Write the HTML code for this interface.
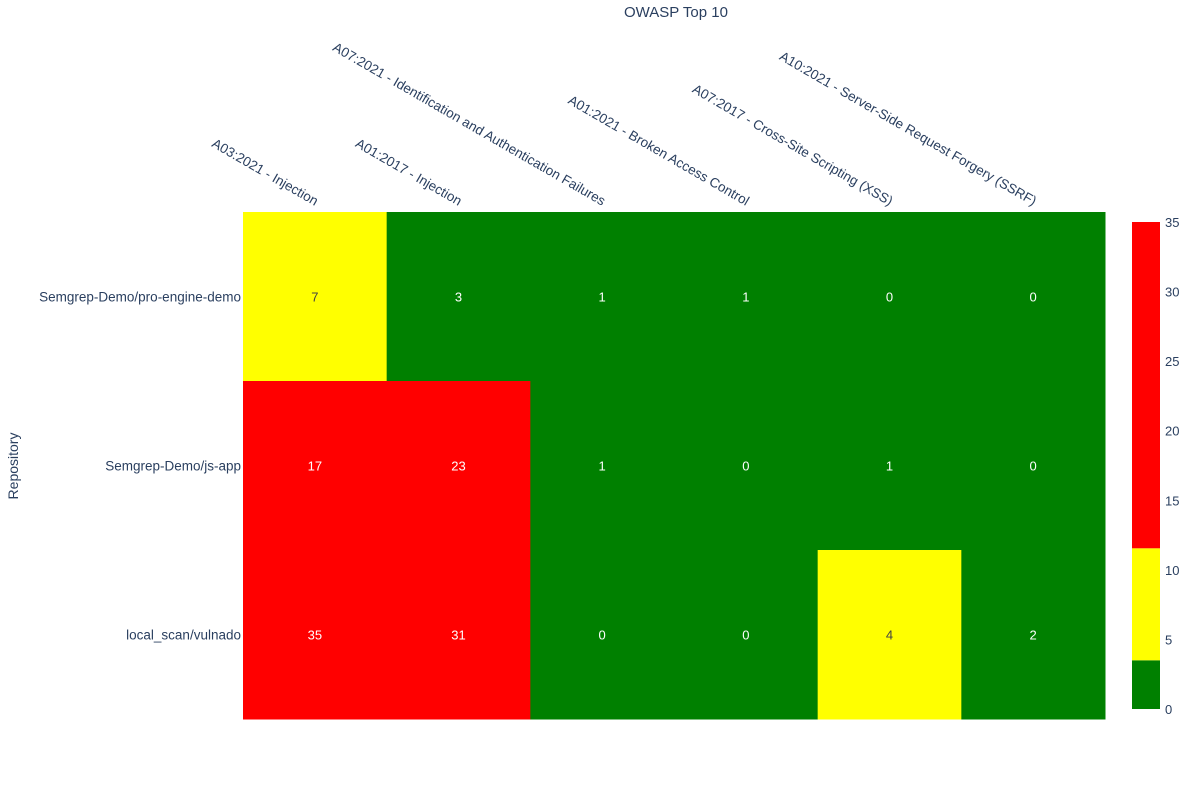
<!DOCTYPE html>
<html><head><meta charset="utf-8"><style>body{margin:0;background:#fff}svg{font-family:"Liberation Sans",sans-serif}</style></head>
<body>
<svg id="c" width="1200" height="800"></svg>
<script>
const categories=["A03:2021 - Injection","A01:2017 - Injection","A07:2021 - Identification and Authentication Failures","A01:2021 - Broken Access Control","A07:2017 - Cross-Site Scripting (XSS)","A10:2021 - Server-Side Request Forgery (SSRF)"];
const repos=["Semgrep-Demo/pro-engine-demo","Semgrep-Demo/js-app","local_scan/vulnado"];
const row0=[7,3,1,1,0,0];
const row1=[17,23,1,0,1,0];
const row2=[35,31,0,0,4,2];
const values=[row0,row1,row2];
const colorTicks=[0,5,10,15,20,25,30,35];
const zmax=35;
const NS="http://www.w3.org/2000/svg";
const svg=document.getElementById('c');
function mk(t,a,p){const e=document.createElementNS(NS,t);for(const k in a)e.setAttribute(k,a[k]);(p||svg).appendChild(e);return e;}
const X0=243,X1=1105,Y0=212,Y1=719;
const cw=(X1-X0)/categories.length,ch=(Y1-Y0)/repos.length;
const xs=i=>X0+i*cw, ys=j=>Y0+j*ch;
function color(v){const f=v/zmax;return f<0.1?"#008000":f<0.33?"#ffff00":"#ff0000";}
const t=mk('text',{x:676,y:17,'font-size':15,fill:'#2a3f5f','text-anchor':'middle'});t.textContent="OWASP Top 10";

values.forEach((row,j)=>row.forEach((v,i)=>{
 const r=mk('rect',{x:xs(i),y:ys(j),width:cw+0.5,height:ch+0.5,fill:color(v)});
 
 
 const tx=mk('text',{x:xs(i)+cw/2,y:ys(j)+ch/2+5,'font-size':13,'text-anchor':'middle',fill:color(v)=="#ffff00"?"#444":"#fff"});tx.textContent=v;
 
 
}));
categories.forEach((c,i)=>{
 const cx=xs(i)+cw/2;
 const e=mk('text',{x:cx,y:206,'font-size':13.5,fill:'#2a3f5f','text-anchor':'end',transform:`rotate(30 ${cx} 206)`});e.textContent=c;
 
 
});
repos.forEach((r,j)=>{
 const e=mk('text',{x:241,y:ys(j)+ch/2+5,'font-size':13.5,fill:'#2a3f5f','text-anchor':'end'});e.textContent=r;
 
 
});
const yt=mk('text',{x:18,y:466,'font-size':14,fill:'#2a3f5f','text-anchor':'middle',transform:'rotate(-90 18 466)'});yt.textContent="Repository";

const CB0=709,CB1=222,cbx=1132,cbw=28;
const cy=v=>CB0-(v/zmax)*(CB0-CB1);
const bands=[[0,0.1*zmax,"#008000"],[0.1*zmax,0.33*zmax,"#ffff00"],[0.33*zmax,zmax,"#ff0000"]];
bands.forEach(b=>{const r=mk('rect',{x:cbx,y:cy(b[1]),width:cbw,height:cy(b[0])-cy(b[1]),fill:b[2]});
 
 });
colorTicks.forEach(v=>{
 const e=mk('text',{x:cbx+cbw+5,y:cy(v)+5,'font-size':13,fill:'#2a3f5f'});e.textContent=v;
 
 
});
</script>
</body></html>
